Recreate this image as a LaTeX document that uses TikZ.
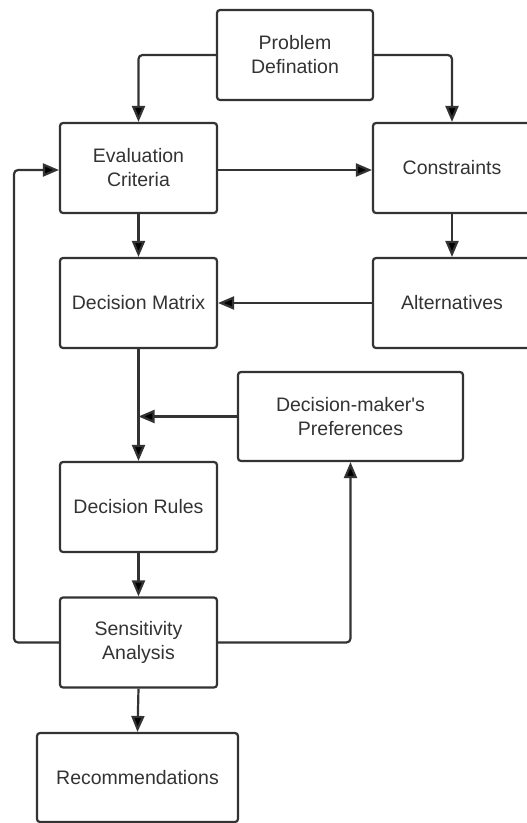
\documentclass[tikz,border=0pt]{standalone}
\usepackage{fontspec}
\setmainfont{Liberation Sans}
\usetikzlibrary{arrows.meta}
\definecolor{ink}{HTML}{333333}
\definecolor{txt}{HTML}{333333}
\tikzset{
  stepbox/.style={draw=ink, line width=2.2pt, rounded corners=3pt, fill=white,
    minimum width=157pt, minimum height=90pt, align=center, text=txt,
    font=\fontsize{19.5}{24}\selectfont, inner sep=0pt},
  flow/.style={draw=ink, line width=2.2pt, rounded corners=4pt,
    -{Triangle[length=16pt,width=13pt,fill=black]}}
}
\begin{document}
\begin{tikzpicture}[x=1pt,y=-1pt]
\useasboundingbox (0,0) rectangle (527,823);

% process boxes
\node[stepbox, minimum width=156pt] (pd) at (295,55) {Problem\\Defination};
\node[stepbox] (ec)   at (138.5,168) {Evaluation\\Criteria};
\node[stepbox, minimum width=158pt] (cons) at (452,168) {Constraints};
\node[stepbox] (dm)   at (138.5,303) {Decision Matrix};
\node[stepbox, minimum width=158pt] (alt)  at (452,303) {Alternatives};
\node[stepbox, minimum width=225pt, minimum height=89pt] (dmp) at (350.5,416.5) {Decision-maker\textquotesingle s\\Preferences};
\node[stepbox] (dr)   at (138.5,507) {Decision Rules};
\node[stepbox] (sa)   at (138.5,642.5) {Sensitivity\\Analysis};
\node[stepbox, minimum width=201pt, minimum height=89pt] (rec) at (137.5,777.5) {Recommendations};

% helper points
\coordinate (rail) at (14,0);
\coordinate (join) at (dm.south |- dmp.west);

% connectors
\draw[flow] (pd.west) -| (ec.north);
\draw[flow] (pd.east) -| (cons.north);
\draw[flow] (ec.east |- 0,170) -- (cons.west |- 0,170);
\draw[flow] (ec.south) -- (dm.north);
\draw[flow] (cons.south) -- (alt.north);
\draw[flow] (alt.west) -- (dm.east);
\draw[flow] (dm.south) -- (dr.north);
\draw[flow] (dmp.west) -- (join);
\draw[flow] (dr.south) -- (sa.north);
\draw[flow] (sa.south) -- (rec.north);
\draw[flow] (sa.west) -- (sa.west -| rail) |- (ec.west |- 0,170);
\draw[flow] (sa.east) -| (dmp.south);
\end{tikzpicture}
\end{document}
